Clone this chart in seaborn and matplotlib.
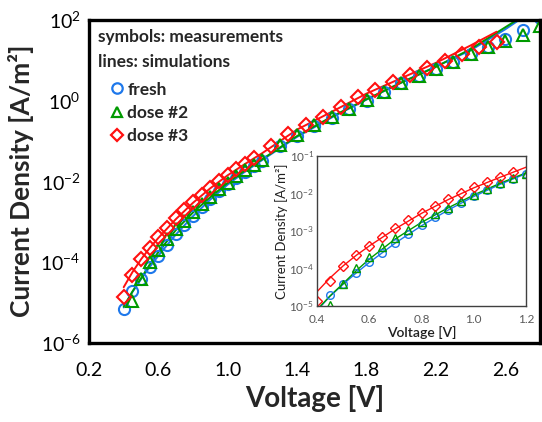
import numpy as np
import matplotlib
matplotlib.use("Agg")
import matplotlib.pyplot as plt
import seaborn as sns
from matplotlib.lines import Line2D

# ---------------- data (log10 of current density, A/m^2) ----------------
# measurements, fine sweep 0.40-1.20 V
v_fine = [0.40, 0.45, 0.50, 0.55, 0.60, 0.65, 0.70, 0.75, 0.80, 0.85, 0.90, 0.95, 1.00, 1.05, 1.10, 1.15, 1.20]
fresh_fine = [-5.15, -4.71, -4.42, -4.12, -3.84, -3.58, -3.31, -3.08, -2.85, -2.63, -2.44, -2.25, -2.07, -1.91, -1.76, -1.61, -1.49]
v_fine_d2 = [0.45, 0.50, 0.55, 0.60, 0.65, 0.70, 0.75, 0.80, 0.85, 0.90, 0.95, 1.00, 1.05, 1.10, 1.15, 1.20]
dose2_fine = [-4.97, -4.42, -4.00, -3.70, -3.43, -3.19, -2.97, -2.76, -2.56, -2.38, -2.20, -2.04, -1.87, -1.72, -1.59, -1.48]
v_fine_d3 = [0.40, 0.45, 0.50, 0.55, 0.60, 0.65, 0.70, 0.75, 0.80, 0.85, 0.90, 0.95, 1.00, 1.05, 1.10, 1.15]
dose3_fine = [-4.86, -4.33, -3.93, -3.65, -3.39, -3.15, -2.91, -2.71, -2.51, -2.33, -2.16, -1.99, -1.84, -1.69, -1.57, -1.43]

# measurements, coarse sweep
v_coarse = [1.30, 1.40, 1.50, 1.60, 1.70, 1.80, 1.90, 2.00, 2.10, 2.20, 2.30, 2.40, 2.50, 2.60, 2.70, 2.80]
fresh_coarse = [-1.12, -0.87, -0.64, -0.44, -0.22, -0.01, 0.20, 0.42, 0.60, 0.77, 0.95, 1.14, 1.32, 1.52, 1.74, 2.03]
dose2_coarse = [-1.09, -0.85, -0.61, -0.42, -0.20, 0.01, 0.21, 0.44, 0.60, 0.77, 0.96, 1.16, 1.31, 1.48, 1.62, 1.85]
v_coarse_d3 = [1.25, 1.35, 1.45, 1.55, 1.65, 1.75, 1.85, 1.95, 2.05, 2.15, 2.25, 2.35, 2.45, 2.55]
dose3_coarse = [-1.12, -0.84, -0.60, -0.40, -0.16, 0.09, 0.27, 0.46, 0.63, 0.79, 0.98, 1.16, 1.31, 1.45]

# simulations
v_sim = [0.40, 0.45, 0.50, 0.55, 0.60, 0.70, 0.80, 0.90, 1.00, 1.10, 1.20, 1.40, 1.60, 1.80, 2.00, 2.20, 2.40, 2.60, 2.70]
fresh_sim = [-5.12, -4.74, -4.42, -4.12, -3.84, -3.32, -2.86, -2.45, -2.08, -1.76, -1.47, -0.90, -0.42, 0.02, 0.44, 0.84, 1.24, 1.76, 2.05]
dose2_sim = [-5.10, -4.73, -4.40, -4.06, -3.75, -3.21, -2.77, -2.39, -2.04, -1.73, -1.45, -0.88, -0.40, 0.03, 0.44, 0.83, 1.27, 1.81, 2.08]
v_sim_d3 = [0.40, 0.45, 0.50, 0.55, 0.60, 0.70, 0.80, 0.90, 1.00, 1.10, 1.20, 1.40, 1.60, 1.80, 2.00, 2.20, 2.40, 2.55]
dose3_sim = [-4.62, -4.25, -3.93, -3.65, -3.40, -2.94, -2.53, -2.17, -1.85, -1.57, -1.30, -0.72, -0.28, 0.17, 0.55, 0.93, 1.36, 1.70]

labels = ["fresh", "dose #2", "dose #3"]
x_ticks = [0.2, 0.6, 1.0, 1.4, 1.8, 2.2, 2.6]
y_ticks = [1e-6, 1e-4, 1e-2, 1e0, 1e2]
inset_x_ticks = [0.4, 0.6, 0.8, 1.0, 1.2]
inset_y_ticks = [1e-5, 1e-4, 1e-3, 1e-2, 1e-1]

C_BLUE = "#1E78EB"
C_GREEN = "#009A00"
C_RED = "#FF1010"

# ---------------- style ----------------
sns.set_style("white")
FONT = ["Lato", "DejaVu Sans"]
plt.rcParams["font.family"] = FONT
plt.rcParams["mathtext.fontset"] = "custom"
plt.rcParams["mathtext.rm"] = "Lato"
plt.rcParams["mathtext.it"] = "Lato:italic"
plt.rcParams["mathtext.bf"] = "Lato:bold"

fig = plt.figure(figsize=(5.42, 4.22), dpi=100)
ax = fig.add_axes([0.1642, 0.1872, 0.8321, 0.7664])


def to_j(vals):
    return np.power(10.0, np.asarray(vals, dtype=float))


def draw(axx, ms, mew, lw):
    sns.lineplot(x=v_sim, y=to_j(fresh_sim), ax=axx, color=C_BLUE, lw=lw, sort=False)
    sns.lineplot(x=v_sim, y=to_j(dose2_sim), ax=axx, color=C_GREEN, lw=lw, sort=False)
    sns.lineplot(x=v_sim_d3, y=to_j(dose3_sim), ax=axx, color=C_RED, lw=lw, sort=False)
    sets = [
        (v_fine + v_coarse, fresh_fine + fresh_coarse, "o", C_BLUE, 1.0),
        (v_fine_d2 + v_coarse, dose2_fine + dose2_coarse, "^", C_GREEN, 1.0),
        (v_fine_d3 + v_coarse_d3, dose3_fine + dose3_coarse, "D", C_RED, 0.9),
    ]
    for xv, yv, mk, col, scale in sets:
        sns.lineplot(x=xv, y=to_j(yv), ax=axx, color=col, marker=mk, linestyle="none",
                     markerfacecolor="none", markeredgecolor=col,
                     markersize=ms * scale, markeredgewidth=mew, sort=False)


draw(ax, 8.0, 1.5, 1.4)
ax.set_yscale("log")
ax.set_xlim(0.2, 2.8)
ax.set_ylim(1e-6, 1e2)
ax.set_xticks(x_ticks)
ax.set_xticklabels([f"{t:.1f}" for t in x_ticks])
ax.set_yticks(y_ticks)
ax.yaxis.set_minor_locator(matplotlib.ticker.NullLocator())
ax.tick_params(axis="both", direction="in", length=7, width=2.2, labelsize=14,
               pad=14, colors="black")
ax.tick_params(axis="y", pad=6)
for sp in ax.spines.values():
    sp.set_linewidth(2.4)
    sp.set_color("black")
ax.set_xlabel("Voltage [V]", fontsize=20, fontweight="bold", labelpad=4)
ax.set_ylabel("Current Density [A/m²]", fontsize=19, fontweight="bold", labelpad=5)

ax.text(0.02, 0.946, "symbols: measurements", transform=ax.transAxes, fontsize=12.5,
        fontweight="bold", va="center", ha="left")
ax.text(0.02, 0.869, "lines: simulations", transform=ax.transAxes, fontsize=12.5,
        fontweight="bold", va="center", ha="left")
handles = [
    Line2D([], [], marker="o", ls="none", mfc="none", mec=C_BLUE, mew=1.6, ms=7.5),
    Line2D([], [], marker="^", ls="none", mfc="none", mec=C_GREEN, mew=1.6, ms=7.5),
    Line2D([], [], marker="D", ls="none", mfc="none", mec=C_RED, mew=1.6, ms=6.5),
]
leg = ax.legend(handles, labels, loc="upper left", bbox_to_anchor=(0.031, 0.83),
                frameon=False, handlelength=0.8, handletextpad=0.2, labelspacing=0.42,
                prop={"family": FONT, "weight": "bold", "size": 12.5}, borderaxespad=0)

# ---------------- inset ----------------
ins = fig.add_axes([0.5849, 0.2749, 0.3856, 0.3555])
draw(ins, 5.5, 1.0, 1.0)
ins.set_yscale("log")
ins.set_xlim(0.4, 1.2)
ins.set_ylim(1e-5, 1e-1)
ins.set_xticks(inset_x_ticks)
ins.set_xticklabels([f"{t:.1f}" for t in inset_x_ticks])
ins.set_yticks(inset_y_ticks)
ins.yaxis.set_minor_locator(matplotlib.ticker.NullLocator())
ins.tick_params(axis="both", direction="in", length=3, width=0.8, labelsize=8.5,
                pad=2, colors="#404040", labelcolor="#595959")
ins.tick_params(axis="x", pad=5.5)
for sp in ins.spines.values():
    sp.set_linewidth(1.0)
    sp.set_color("#404040")
ins.set_facecolor("white")
ins.set_xlabel("Voltage [V]", fontsize=10, fontweight="semibold", labelpad=1, color="#202020")
ins.set_ylabel("Current Density [A/m²]", fontsize=9.5, labelpad=1, color="#202020")

fig.savefig("out.png", dpi=100)
